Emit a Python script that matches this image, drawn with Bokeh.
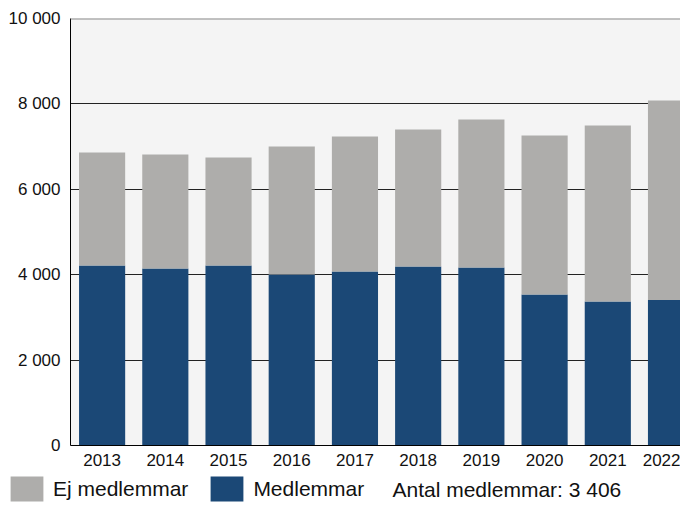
from bokeh.plotting import figure
from bokeh.layouts import column
from bokeh.models import ColumnDataSource, FixedTicker, Legend, LegendItem, Label, Span, Range1d
from bokeh.embed import file_html
from bokeh.resources import INLINE

years = [2013, 2014, 2015, 2016, 2017, 2018, 2019, 2020, 2021, 2022]
members = [4215, 4145, 4215, 4005, 4075, 4190, 4170, 3535, 3370, 3406]
totals = [6860, 6815, 6745, 7000, 7235, 7400, 7635, 7260, 7495, 8080]
non_members = [t - m for t, m in zip(totals, members)]
y_ticks = [0, 2000, 4000, 6000, 8000, 10000]
y_tick_labels = ["0", "2 000", "4 000", "6 000", "8 000", "10 000"]

BLUE = "#1b4876"
GRAY = "#aeadab"
FONT = "Liberation Sans"
W = 680
H_PLOT = 473
H_LEG = 31

src = ColumnDataSource(dict(year=years, Medlemmar=members, Ej=non_members))

p = figure(width=W, height=H_PLOT, output_backend="svg", toolbar_location=None,
           x_range=Range1d(2012.5, 2022.15), y_range=Range1d(0, 10000),
           min_border_left=70, min_border_right=0, min_border_top=18, min_border_bottom=28)
p.frame_align = False
p.background_fill_color = "#f4f4f4"
p.border_fill_color = "white"
p.outline_line_color = None

r = p.vbar_stack(["Medlemmar", "Ej"], x="year", width=0.73, source=src,
                 color=[BLUE, GRAY], line_color=None)

p.xgrid.grid_line_color = None
p.ygrid.ticker = FixedTicker(ticks=y_ticks[:-1])
p.ygrid.grid_line_color = "#222222"
p.ygrid.grid_line_width = 1
p.add_layout(Span(location=10000, dimension="width", line_color="#8a8a8a", line_width=2))

p.xaxis.ticker = FixedTicker(ticks=years)
p.yaxis.ticker = FixedTicker(ticks=y_ticks)
p.yaxis.major_label_overrides = {t: l for t, l in zip(y_ticks, y_tick_labels)}
for ax in (p.xaxis, p.yaxis):
    ax.major_tick_line_color = None
    ax.minor_tick_line_color = None
    ax.major_tick_out = 0
    ax.major_tick_in = 0
    ax.axis_line_color = "black"
    ax.axis_line_width = 1
    ax.major_label_text_font = FONT
    ax.major_label_text_font_size = "17px"
    ax.major_label_text_color = "#111111"
p.xaxis.major_label_standoff = 8
p.yaxis.major_label_standoff = 10

# legend strip
lf = figure(width=W, height=H_LEG, output_backend="svg", toolbar_location=None,
            x_axis_type=None, y_axis_type=None, min_border=0,
            x_range=Range1d(0, 1), y_range=Range1d(0, 1))
lf.frame_align = False
lf.outline_line_color = None
lf.background_fill_color = "white"
lf.grid.visible = False
r_ej = lf.vbar(x="year", top="Ej", width=0.5, source=src, color=GRAY, line_color=None, visible=False)
r_m = lf.vbar(x="year", top="Medlemmar", width=0.5, source=src, color=BLUE, line_color=None, visible=False)

legend = Legend(items=[LegendItem(label="Ej medlemmar", renderers=[r_ej]),
                       LegendItem(label="Medlemmar", renderers=[r_m])],
                location=(6, 0), orientation="horizontal",
                glyph_width=41, glyph_height=31, label_standoff=6, spacing=18,
                padding=0, margin=0, border_line_color=None, background_fill_alpha=0,
                label_text_font=FONT, label_text_font_size="21px", label_text_color="#111111")
lf.add_layout(legend)
lf.add_layout(Label(x=392, y=15, x_units="screen", y_units="screen",
                    text="Antal medlemmar: " + f"{members[-1]:,}".replace(",", " "),
                    text_font=FONT, text_font_size="21px", text_color="#111111",
                    text_baseline="middle"))

layout = column(p, lf, spacing=0)
open("out.html", "w").write(file_html(layout, INLINE))
